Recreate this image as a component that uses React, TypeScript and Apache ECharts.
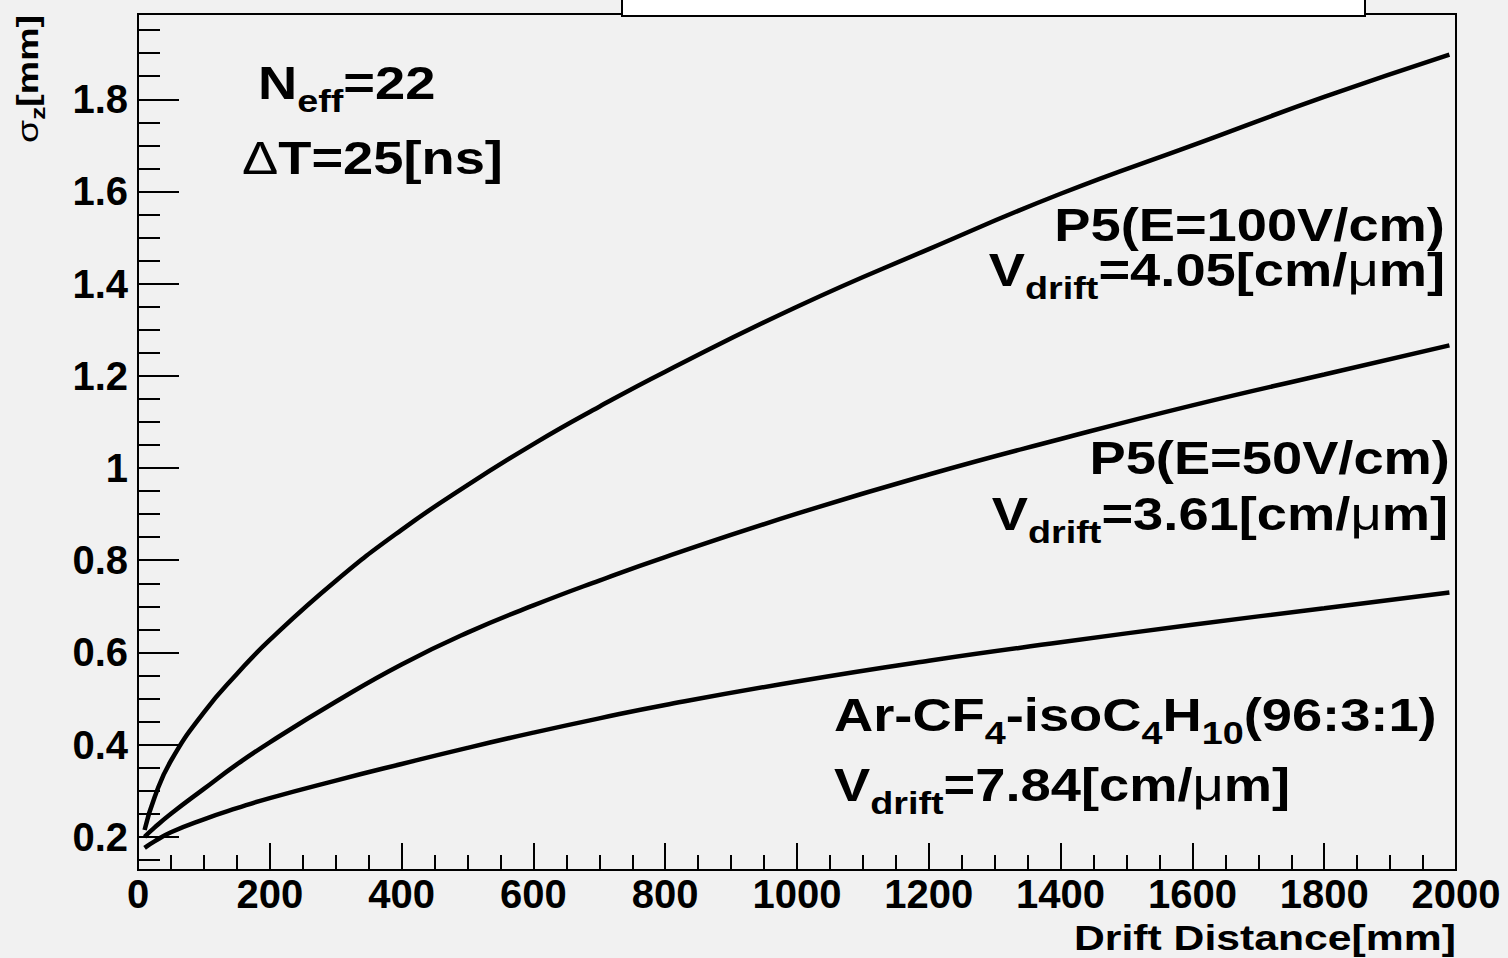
import React, { useEffect, useRef } from 'react';
import * as echarts from 'echarts';

// ---- data ----
const driftDistance = [10, 25, 50, 100, 150, 200, 300, 400, 500, 600, 700, 800, 1000, 1200, 1400, 1600, 1800, 1990];
const sigmaP5E100 = [0.215, 0.285, 0.365, 0.47, 0.553, 0.627, 0.755, 0.866, 0.963, 1.052, 1.133, 1.209, 1.35, 1.475, 1.595, 1.7, 1.805, 1.897];
const sigmaP5E50 = [0.2, 0.22, 0.25, 0.304, 0.357, 0.405, 0.493, 0.574, 0.643, 0.702, 0.756, 0.807, 0.901, 0.986, 1.063, 1.136, 1.203, 1.266];
const sigmaArCF4 = [0.176, 0.19, 0.21, 0.238, 0.262, 0.284, 0.322, 0.358, 0.393, 0.426, 0.457, 0.486, 0.537, 0.582, 0.622, 0.66, 0.696, 0.73];

const yMajorTicks = [0.2, 0.4, 0.6, 0.8, 1.0, 1.2, 1.4, 1.6, 1.8];
const yMinorTicks = [0.15, 0.25, 0.3, 0.35, 0.45, 0.5, 0.55, 0.65, 0.7, 0.75, 0.85, 0.9, 0.95, 1.05, 1.1, 1.15, 1.25, 1.3, 1.35, 1.45, 1.5, 1.55, 1.65, 1.7, 1.75, 1.85, 1.9, 1.95];
const Y_MIN = 0.128;
const Y_MAX = 1.985;
const X_MIN = 0;
const X_MAX = 2000;
const X_STEP = 200;

const FAM = '"Liberation Sans", Arial, Helvetica, sans-serif';

type Seg = [string, 'm' | 's' | 'n'];

let measureCtx: CanvasRenderingContext2D | null = null;
function measure(text: string, size: number, weight: string) {
  if (!measureCtx) measureCtx = document.createElement('canvas').getContext('2d');
  measureCtx!.font = `${weight} ${size}px ${FAM}`;
  return measureCtx!.measureText(text).width;
}

function label(
  segs: Seg[],
  o: { x: number; y: number; base: number; align: 'left' | 'right'; main: number; sub: number; dy: number; scaleX: number; rotation?: number }
) {
  let cursor = 0;
  const items = segs.map(([t, k]) => {
    const size = k === 's' ? o.sub : o.main;
    const weight = k === 'n' ? 'normal' : 'bold';
    const w = measure(t, size, weight);
    const it = { t, size, weight, x: cursor, off: k === 's' ? o.dy : 0 };
    cursor += w;
    return it;
  });
  const shift = o.align === 'right' ? -cursor : 0;
  return {
    type: 'group',
    x: o.x,
    y: o.y,
    scaleX: o.scaleX,
    rotation: o.rotation || 0,
    z: 20,
    children: items.map((it) => ({
      type: 'text',
      x: it.x + shift,
      y: o.base + it.off - 0.3465 * it.size,
      z: 20,
      style: {
        text: it.t,
        fontSize: it.size,
        fontWeight: it.weight,
        fontFamily: FAM,
        fill: '#000',
        align: 'left',
        verticalAlign: 'middle',
      },
    })),
  };
}

export default function App() {
  const ref = useRef<HTMLDivElement>(null);
  useEffect(() => {
    if (!ref.current) return;
    const chart = echarts.init(ref.current, null, { renderer: 'svg' });
    const mk = (vals: number[]) => driftDistance.map((d, i) => [d, vals[i]]);
    const lineSeries = (name: string, vals: number[]) => ({
      name,
      type: 'line',
      data: mk(vals),
      showSymbol: false,
      smooth: 0.5,
      yAxisIndex: 0,
      lineStyle: { color: '#000', width: 4.5 },
      z: 5,
    });
    const main = 46, sub = 32, dy = 13, sx = 1.18;
    const axisFont = { color: '#000', fontSize: 40, fontWeight: 'bold', fontFamily: FAM };
    const option: any = {
      animation: false,
      backgroundColor: '#f1f1f1',
      grid: {
        left: 138, top: 14, width: 1318, height: 856,
        show: true, borderColor: '#000', borderWidth: 2, backgroundColor: 'transparent',
        containLabel: false, outerBoundsMode: 'none',
      },
      xAxis: {
        type: 'value', min: X_MIN, max: X_MAX, interval: X_STEP,
        axisLine: { show: true, lineStyle: { color: '#000', width: 2 } },
        axisTick: { show: true, inside: true, length: 27, lineStyle: { color: '#000', width: 2 } },
        minorTick: { show: true, splitNumber: 4, length: 15, lineStyle: { color: '#000', width: 2 } },
        splitLine: { show: false },
        minorSplitLine: { show: false },
        axisLabel: { ...axisFont, margin: 4, formatter: (v: number) => String(v) },
      },
      yAxis: [
        {
          type: 'value', min: Y_MIN, max: Y_MAX, position: 'left',
          axisLine: { show: true, lineStyle: { color: '#000', width: 2 } },
          axisTick: { show: true, inside: true, length: 41, customValues: yMajorTicks, lineStyle: { color: '#000', width: 2 } },
          axisLabel: { ...axisFont, margin: 10, customValues: yMajorTicks, formatter: (v: number) => String(+v.toFixed(2)) },
          splitLine: { show: false },
        },
        {
          type: 'value', min: Y_MIN, max: Y_MAX, position: 'left', offset: 0,
          axisLine: { show: false },
          axisTick: { show: true, inside: true, length: 22, customValues: yMinorTicks, lineStyle: { color: '#000', width: 2 } },
          axisLabel: { show: false },
          splitLine: { show: false },
        },
      ],
      series: [
        lineSeries('P5(E=100V/cm)', sigmaP5E100),
        lineSeries('P5(E=50V/cm)', sigmaP5E50),
        lineSeries('Ar-CF4-isoC4H10(96:3:1)', sigmaArCF4),
      ],
      graphic: [
        {
          type: 'rect', z: 30,
          shape: { x: 622, y: -4, width: 743, height: 20 },
          style: { fill: '#fff', stroke: '#000', lineWidth: 2 },
        },
        label([['N', 'm'], ['eff', 's'], ['=22', 'm']], { x: 258, y: 0, base: 99, align: 'left', main, sub, dy, scaleX: sx }),
        label([['Δ', 'n'], ['T=25[ns]', 'm']], { x: 242, y: 0, base: 174, align: 'left', main, sub, dy, scaleX: sx }),
        label([['P5(E=100V/cm)', 'm']], { x: 1445, y: 0, base: 241, align: 'right', main, sub, dy, scaleX: sx }),
        label([['V', 'm'], ['drift', 's'], ['=4.05[cm/', 'm'], ['μ', 'n'], ['m]', 'm']], { x: 1445, y: 0, base: 286, align: 'right', main, sub, dy, scaleX: sx }),
        label([['P5(E=50V/cm)', 'm']], { x: 1450, y: 0, base: 474, align: 'right', main, sub, dy, scaleX: sx }),
        label([['V', 'm'], ['drift', 's'], ['=3.61[cm/', 'm'], ['μ', 'n'], ['m]', 'm']], { x: 1448, y: 0, base: 530, align: 'right', main, sub, dy, scaleX: sx }),
        label([['Ar-CF', 'm'], ['4', 's'], ['-isoC', 'm'], ['4', 's'], ['H', 'm'], ['10', 's'], ['(96:3:1)', 'm']], { x: 834, y: 0, base: 731, align: 'left', main, sub, dy, scaleX: sx }),
        label([['V', 'm'], ['drift', 's'], ['=7.84[cm/', 'm'], ['μ', 'n'], ['m]', 'm']], { x: 834, y: 0, base: 801, align: 'left', main, sub, dy, scaleX: sx }),
        label([['Drift Distance[mm]', 'm']], { x: 1456, y: 0, base: 950, align: 'right', main: 35, sub: 24, dy: 8, scaleX: 1.22 }),
        label([['σ', 'n'], ['z', 's'], ['[mm]', 'm']], { x: 0, y: 15, base: 38, align: 'right', main: 30, sub: 21, dy: 7, scaleX: 1.25, rotation: Math.PI / 2 }),
      ],
    };
    chart.setOption(option);
    return () => chart.dispose();
  }, []);
  return <div ref={ref} style={{ position: 'fixed', left: 0, top: 0, width: 1508, height: 958 }} />;
}
